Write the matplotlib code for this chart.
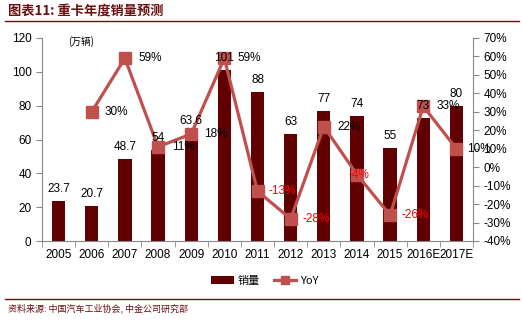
import matplotlib
matplotlib.use("Agg")
import matplotlib.pyplot as plt
import numpy as np

plt.rcParams['font.family'] = ['Liberation Sans', 'Noto Sans CJK SC', 'DejaVu Sans']

years = ['2005', '2006', '2007', '2008', '2009', '2010', '2011', '2012', '2013',
         '2014', '2015', '2016E', '2017E']
sales = [23.7, 20.7, 48.7, 54, 63.6, 101, 88, 63, 77, 74, 55, 73, 80]
sales_lbl = ['23.7', '20.7', '48.7', '54', '63.6', '101', '88', '63', '77', '74', '55', '73', '80']
yoy = [None, 30, 59, 11, 18, 59, -13, -28, 22, -4, -26, 33, 10]

bar_c = '#600000'
line_c = '#c0504d'
dark = '#6b0f0f'

fig = plt.figure(figsize=(5.22, 3.26), dpi=100)
ax = fig.add_axes([42/522, 1 - 241/326, 431/522, 203/326])
x = np.arange(len(years))
ax.bar(x, sales, width=0.4, color=bar_c, zorder=2, label='销量')
ax.set_ylim(0, 120)
ax.set_yticks(range(0, 121, 20))
ax.set_xlim(-0.5, len(years) - 0.5)
ax.set_xticks(x)
ax.set_xticklabels(years)
ax.set_xticks(np.arange(-0.5, len(years), 1), minor=True)
ax.tick_params(axis='x', which='major', length=0, labelsize=8.5, pad=6)
ax.tick_params(axis='x', which='minor', length=4, color='#888888', direction='out')
ax.tick_params(axis='y', labelsize=8.5, length=4, color='#888888', direction='out')
for s in ['top', 'right']:
    ax.spines[s].set_visible(False)
for s in ['left', 'bottom']:
    ax.spines[s].set_color('#888888')
ax.text(0.06, 0.985, '(万辆)', transform=ax.transAxes, fontsize=7,
        ha='left', va='center', family=['Noto Sans CJK SC', 'DejaVu Sans'])

ax2 = ax.twinx()
xs = [xi for xi, v in zip(x, yoy) if v is not None]
ys = [v for v in yoy if v is not None]
ax2.plot(xs, ys, color=line_c, lw=2.3, marker='s', markersize=8, zorder=3, label='YoY')
ax2.set_ylim(-40, 70)
ax2.set_yticks(range(-40, 71, 10))
ax2.set_yticklabels([f'{v}%' for v in range(-40, 71, 10)])
ax2.tick_params(axis='y', labelsize=8.5, length=4, color='#888888', direction='out')
for s in ['top', 'left', 'bottom']:
    ax2.spines[s].set_visible(False)
ax2.spines['right'].set_color('#888888')

# bar value labels drawn on ax2 so they sit above the line
for xi, v, t in zip(x, sales, sales_lbl):
    ax2.annotate(t, (xi, v), xycoords=ax.transData, xytext=(0, 12),
                 textcoords='offset pixels', ha='center', va='center',
                 fontsize=8.5, zorder=5)
for xi, v in zip(xs, ys):
    dx = 2 if v == -4 else (22 if v == 10 and xi == 12 else 25)
    ax2.annotate(f'{v}%', (xi, v), xytext=(dx, 0), textcoords='offset pixels',
                 ha='center', va='center', fontsize=8.5,
                 color='red' if v < 0 else 'black', zorder=6)

h1, l1 = ax.get_legend_handles_labels()
h2, l2 = ax2.get_legend_handles_labels()
fig.legend(h1 + h2, l1 + l2, loc='center', bbox_to_anchor=(265/522, 1 - 281/326),
           ncol=2, frameon=False, handlelength=2.0, columnspacing=1.2, markerscale=0.7,
           handletextpad=0.4, prop={'family': ['Noto Sans CJK SC', 'DejaVu Sans'], 'size': 8})

fig.text(8/522, 1 - 11/326, '图表11: 重卡年度销量预测', fontsize=9.5, color=dark,
         style='italic', weight='bold', va='center',
         family=['Noto Sans CJK SC', 'DejaVu Sans'])
fig.add_artist(plt.Line2D([5/522, 519/522], [1 - 21/326, 1 - 21/326], color=dark, lw=1))
fig.add_artist(plt.Line2D([5/522, 519/522], [1 - 299/326, 1 - 299/326], color=dark, lw=1))
fig.text(8/522, 1 - 308/326, '资料来源: 中国汽车工业协会, 中金公司研究部', fontsize=6.5,
         color=dark, style='italic', va='center',
         family=['Noto Sans CJK SC', 'DejaVu Sans'])

fig.savefig('out.png', dpi=100)
